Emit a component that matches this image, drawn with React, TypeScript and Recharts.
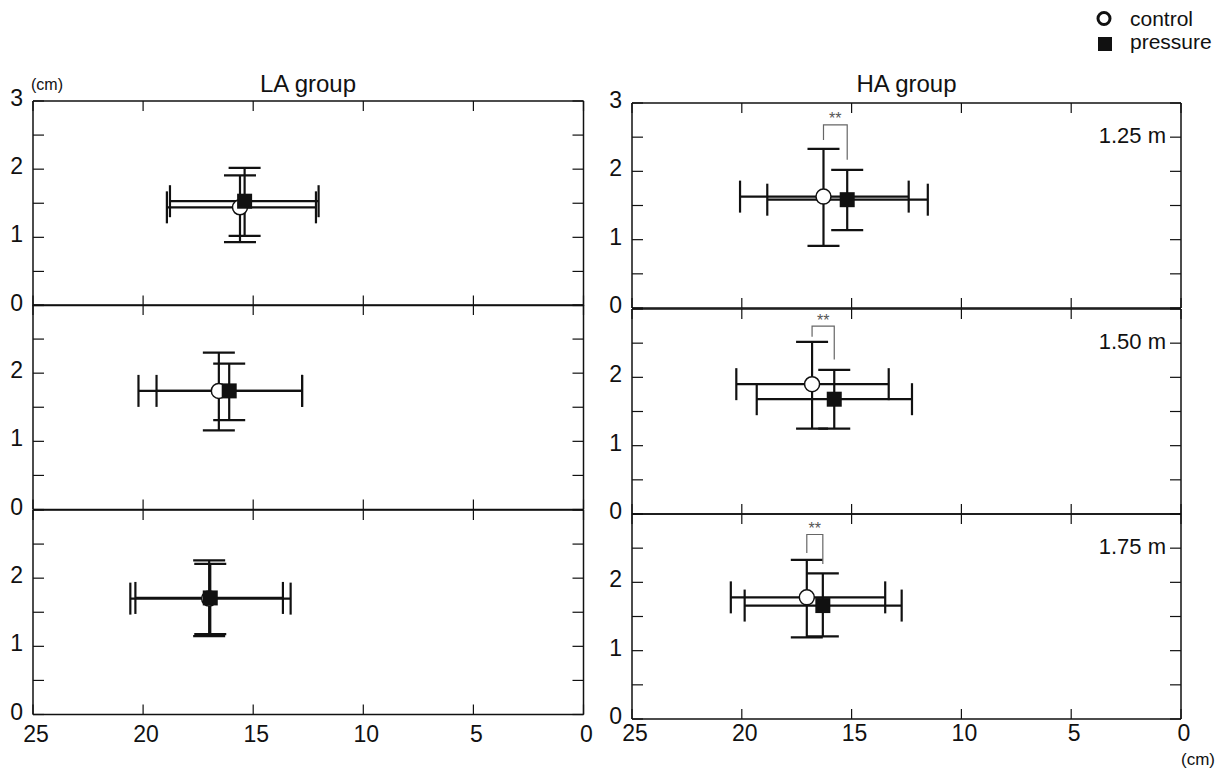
import React from "react";
import {
  ScatterChart,
  Scatter,
  XAxis,
  YAxis,
  ErrorBar,
  ReferenceDot,
} from "recharts";

const FONT = '"Liberation Sans", Arial, Helvetica, sans-serif';
const INK = "#111";
const BRACKET_GREY = "#666";

const DISTANCES = ["1.25 m", "1.50 m", "1.75 m"];
const X_TICKS = [0, 5, 10, 15, 20, 25];
const Y_TICKS = [0, 0.5, 1, 1.5, 2, 2.5, 3];

// LA group, one entry per distance. Means, then [low, high] ends of each bar.
const LA_CTRL_X = [15.6, 16.56, 17.0];
const LA_CTRL_X_RANGE = [[12.15, 18.92], [12.78, 20.21], [13.3, 20.58]];
const LA_CTRL_Y = [1.44, 1.74, 1.7];
const LA_CTRL_Y_RANGE = [[0.93, 1.91], [1.16, 2.3], [1.15, 2.26]];
const LA_PRES_X = [15.39, 16.09, 16.95];
const LA_PRES_X_RANGE = [[12.03, 18.78], [12.78, 19.39], [13.65, 20.35]];
const LA_PRES_Y = [1.53, 1.74, 1.71];
const LA_PRES_Y_RANGE = [[1.02, 2.02], [1.31, 2.14], [1.18, 2.21]];

// HA group
const HA_CTRL_X = [16.28, 16.8, 17.04];
const HA_CTRL_X_RANGE = [[12.4, 20.08], [13.31, 20.25], [13.47, 20.5]];
const HA_CTRL_Y = [1.63, 1.9, 1.78];
const HA_CTRL_Y_RANGE = [[0.91, 2.33], [1.25, 2.52], [1.195, 2.33]];
const HA_PRES_X = [15.2, 15.79, 16.31];
const HA_PRES_X_RANGE = [[11.53, 18.84], [12.25, 19.32], [12.72, 19.87]];
const HA_PRES_Y = [1.585, 1.68, 1.66];
const HA_PRES_Y_RANGE = [[1.14, 2.02], [1.25, 2.11], [1.21, 2.13]];

// "**" brackets (HA only): [control leg end, bracket top, pressure leg end]
const HA_BRACKET = [[2.46, 2.68, 2.17], [2.595, 2.75, 2.26], [2.43, 2.7, 2.27]];

// panel geometry (plot area, px)
const LA_LEFT = 33;
const LA_WIDTH = 550.5;
const LA_TOPS = [100.8, 305.3, 509.8];
const LA_HEIGHT = 204.5;
const HA_LEFT = 632;
const HA_WIDTH = 549;
const HA_TOPS = [103.3, 308.5, 514];
const HA_HEIGHT = 205;

const PAD_LEFT = 45;
const PAD_TOP = 30;
const PAD_RIGHT = 10;
const PAD_BOTTOM = 40;

type Pt = { x: number; y: number; ex: [number, number]; ey: [number, number] };

function toPoint(x: number, xr: number[], y: number, yr: number[]): Pt {
  return { x, y, ex: [x - xr[0], xr[1] - x], ey: [y - yr[0], yr[1] - y] };
}

const AXIS_LINE = { stroke: INK, strokeWidth: 1.5 };
const TICK_LINE = { stroke: INK, strokeWidth: 1.2 };
const BLANK = () => "";

const Empty = () => <g />;

const ControlMark = (p: any) => (
  <circle cx={p.cx} cy={p.cy} r={7.5} fill="#fff" stroke={INK} strokeWidth={1.5} />
);

const PressureMark = (p: any) => (
  <rect x={p.cx - 7.5} y={p.cy - 7.5} width={15} height={15} fill={INK} />
);

function Panel({
  left,
  top,
  width,
  height,
  row,
  labelGap,
  ctrl,
  pres,
  bracket,
}: {
  left: number;
  top: number;
  width: number;
  height: number;
  row: number;
  labelGap: number;
  ctrl: Pt;
  pres: Pt;
  bracket?: number[];
}) {
  const isBottom = row === 2;
  const bracketData = bracket
    ? [
        { x: ctrl.x, y: bracket[0] },
        { x: ctrl.x, y: bracket[1] },
        { x: pres.x, y: bracket[1] },
        { x: pres.x, y: bracket[2] },
      ]
    : [];

  return (
    <div style={{ position: "absolute", left: left - PAD_LEFT, top: top - PAD_TOP }}>
      <ScatterChart
        width={width + PAD_LEFT + PAD_RIGHT}
        height={height + PAD_TOP + PAD_BOTTOM}
        margin={{ top: PAD_TOP - 10, right: 0, bottom: 0, left: 0 }}
      >
        <XAxis
          xAxisId="b"
          type="number"
          dataKey="x"
          domain={[0, 25]}
          allowDataOverflow
          reversed
          ticks={X_TICKS}
          interval={0}
          height={PAD_BOTTOM}
          tickSize={-10}
          tickMargin={10 + labelGap}
          axisLine={AXIS_LINE}
          tickLine={TICK_LINE}
          tick={{ fontSize: 23, fill: INK, fontFamily: FONT, dx: 3 }}
          tickFormatter={(v: number) => (isBottom ? String(v) : "")}
        />
        <XAxis
          xAxisId="t"
          orientation="top"
          type="number"
          dataKey="x"
          domain={[0, 25]}
          allowDataOverflow
          reversed
          ticks={X_TICKS}
          interval={0}
          height={10}
          tickSize={-10}
          axisLine={AXIS_LINE}
          tickLine={TICK_LINE}
          tickFormatter={BLANK}
        />
        <YAxis
          yAxisId="l"
          type="number"
          dataKey="y"
          domain={[0, 3]}
          allowDataOverflow
          ticks={Y_TICKS}
          interval={0}
          width={PAD_LEFT}
          tickSize={-11}
          tickMargin={21}
          axisLine={AXIS_LINE}
          tickLine={TICK_LINE}
          tick={{ fontSize: 23, fill: INK, fontFamily: FONT, dy: -3 }}
          tickFormatter={(v: number) =>
            Number.isInteger(v) && (v !== 3 || row === 0) ? String(v) : ""
          }
        />
        <YAxis
          yAxisId="r"
          orientation="right"
          type="number"
          dataKey="y"
          domain={[0, 3]}
          allowDataOverflow
          ticks={Y_TICKS}
          interval={0}
          width={PAD_RIGHT}
          tickSize={-11}
          axisLine={AXIS_LINE}
          tickLine={TICK_LINE}
          tickFormatter={BLANK}
        />

        {/* error bars first, markers drawn on top of every bar */}
        <Scatter xAxisId="b" yAxisId="l" data={[ctrl]} shape={Empty} isAnimationActive={false}>
          <ErrorBar dataKey="ex" direction="x" width={16} stroke={INK} strokeWidth={2.2} />
          <ErrorBar dataKey="ey" direction="y" width={16} stroke={INK} strokeWidth={2.2} />
        </Scatter>
        <Scatter xAxisId="b" yAxisId="l" data={[pres]} shape={Empty} isAnimationActive={false}>
          <ErrorBar dataKey="ex" direction="x" width={16} stroke={INK} strokeWidth={2.2} />
          <ErrorBar dataKey="ey" direction="y" width={16} stroke={INK} strokeWidth={2.2} />
        </Scatter>
        {bracket && (
          <Scatter
            xAxisId="b"
            yAxisId="l"
            data={bracketData}
            shape={Empty}
            line={{ stroke: BRACKET_GREY, strokeWidth: 1.2 }}
            lineType="joint"
            isAnimationActive={false}
          />
        )}
        <Scatter xAxisId="t" yAxisId="r" data={[ctrl]} shape={ControlMark} isAnimationActive={false} />
        <Scatter xAxisId="t" yAxisId="r" data={[pres]} shape={PressureMark} isAnimationActive={false} />
        {bracket && (
          <ReferenceDot
            xAxisId="b"
            yAxisId="l"
            x={(ctrl.x + pres.x) / 2}
            y={bracket[1] + 0.09}
            r={1}
            fill="none"
            stroke="none"
            ifOverflow="visible"
            label={{ value: "**", position: "center", fill: "#555", fontSize: 16 }}
          />
        )}
      </ScatterChart>
    </div>
  );
}

export default function App() {
  const rows = [0, 1, 2];
  return (
    <div
      style={{
        position: "absolute",
        left: 0,
        top: 0,
        width: 1232,
        height: 769,
        background: "#fff",
        fontFamily: FONT,
      }}
    >
      {rows.map((i) => (
        <Panel
          key={`la-${i}`}
          left={LA_LEFT}
          top={LA_TOPS[i]}
          width={LA_WIDTH}
          height={LA_HEIGHT}
          row={i}
          labelGap={11}
          ctrl={toPoint(LA_CTRL_X[i], LA_CTRL_X_RANGE[i], LA_CTRL_Y[i], LA_CTRL_Y_RANGE[i])}
          pres={toPoint(LA_PRES_X[i], LA_PRES_X_RANGE[i], LA_PRES_Y[i], LA_PRES_Y_RANGE[i])}
        />
      ))}
      {rows.map((i) => (
        <Panel
          key={`ha-${i}`}
          left={HA_LEFT}
          top={HA_TOPS[i]}
          width={HA_WIDTH}
          height={HA_HEIGHT}
          row={i}
          labelGap={6}
          ctrl={toPoint(HA_CTRL_X[i], HA_CTRL_X_RANGE[i], HA_CTRL_Y[i], HA_CTRL_Y_RANGE[i])}
          pres={toPoint(HA_PRES_X[i], HA_PRES_X_RANGE[i], HA_PRES_Y[i], HA_PRES_Y_RANGE[i])}
          bracket={HA_BRACKET[i]}
        />
      ))}

      <svg
        width={1232}
        height={769}
        style={{ position: "absolute", left: 0, top: 0, pointerEvents: "none" }}
        fontFamily={FONT}
        fill={INK}
      >
        <text x={308} y={92} fontSize={24} textAnchor="middle">LA group</text>
        <text x={906.5} y={92} fontSize={24} textAnchor="middle">HA group</text>
        <text x={31} y={90} fontSize={16}>(cm)</text>
        <text x={1181} y={765} fontSize={17}>(cm)</text>
        {rows.map((i) => (
          <text key={DISTANCES[i]} x={1166} y={HA_TOPS[i] + 40} fontSize={22} textAnchor="end">
            {DISTANCES[i]}
          </text>
        ))}
        {/* legend */}
        <circle cx={1104} cy={18.5} r={6} fill="#fff" stroke={INK} strokeWidth={3} />
        <rect x={1098} y={37} width={14} height={14} fill={INK} />
        <text x={1130} y={25.5} fontSize={21}>control</text>
        <text x={1130} y={48.5} fontSize={21}>pressure</text>
      </svg>
    </div>
  );
}
